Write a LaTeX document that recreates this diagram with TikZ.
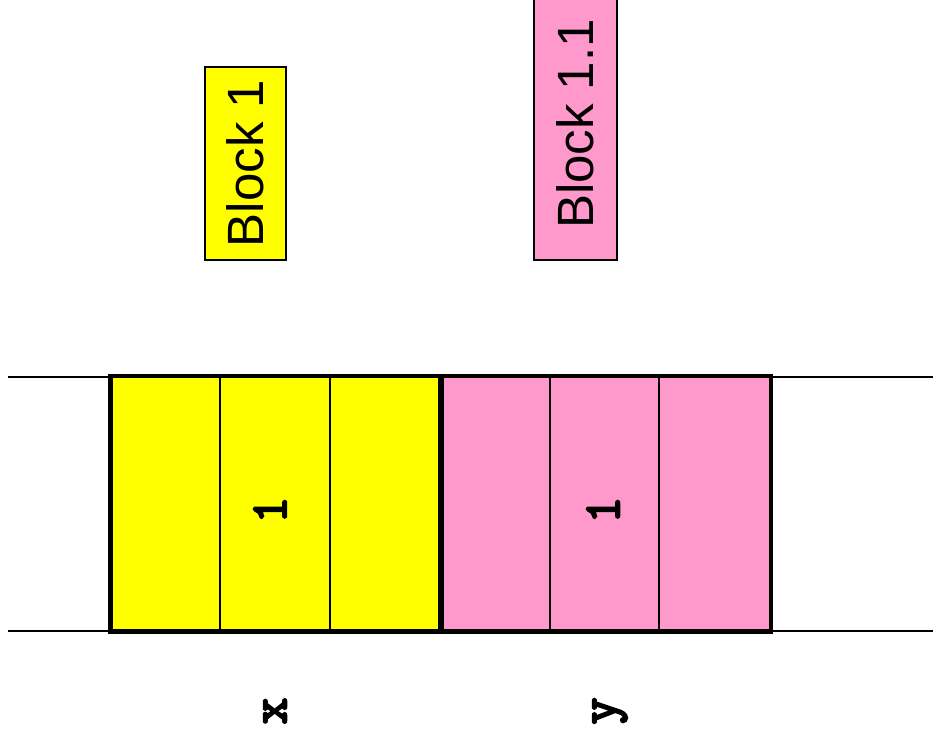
\documentclass[tikz,border=0pt]{standalone}
\usepackage{fontspec}
\setmainfont{Liberation Sans}
\newfontfamily\monob[FakeBold=4]{Latin Modern Mono}
\definecolor{blkyellow}{HTML}{FFFF00}
\definecolor{blkpink}{HTML}{FF99CC}
\tikzset{
  blocklabel/.style={draw=black, line width=2pt, rotate=90, inner sep=0pt,
    font=\fontsize{51}{60}\selectfont},
  cellbox/.style={draw=black, line width=3pt, inner sep=0pt, minimum height=254pt},
  rail/.style={draw=black, line width=2pt},
  divider/.style={draw=black, line width=2pt},
  monolabel/.style={rotate=90, inner sep=0pt, font=\monob\fontsize{52}{60}\selectfont}
}
\begin{document}
\begin{tikzpicture}[x=1pt,y=1pt]
\useasboundingbox (0,0) rectangle (933,746);
% rails
\coordinate (tl) at (8,369);
\coordinate (tr) at (933,369);
\coordinate (bl) at (8,115);
\coordinate (br) at (933,115);
\draw[rail] (tl) -- (tr);
\draw[rail] (bl) -- (br);
% cell groups
\node[cellbox, fill=blkyellow, minimum width=330pt] (xcell) at (276,242) {};
\node[cellbox, fill=blkpink, minimum width=329pt] (ycell) at (605.5,242) {};
% dividers
\draw[divider] ([xshift=110pt]xcell.south west) -- ([xshift=110pt]xcell.north west);
\draw[divider] ([xshift=220pt]xcell.south west) -- ([xshift=220pt]xcell.north west);
\draw[divider] ([xshift=110pt,yshift=3pt]ycell.south west) -- ([xshift=110pt,yshift=-3pt]ycell.north west);
\draw[divider] ([xshift=219pt,yshift=3pt]ycell.south west) -- ([xshift=219pt,yshift=-3pt]ycell.north west);
% redraw outlines on top
\draw[line width=3pt] (xcell.south west) rectangle (xcell.north east);
\draw[line width=3pt] (ycell.south west) rectangle (ycell.north east);
% cell values
\node[monolabel] (xval) at (270,236) {1};
\node[monolabel] (yval) at (603,236) {1};
% variable names
\node[monolabel] (xname) at (275,35) {x};
\node[monolabel] (yname) at (610,35) {y};
% block labels
\node[blocklabel, fill=blkyellow, minimum width=193pt, minimum height=81pt] (b1) at (245.5,582.5) {Block 1};
\node[blocklabel, fill=blkpink, minimum width=272pt, minimum height=83pt] (b11) at (575.5,622) {Block 1.1};
\end{tikzpicture}
\end{document}
